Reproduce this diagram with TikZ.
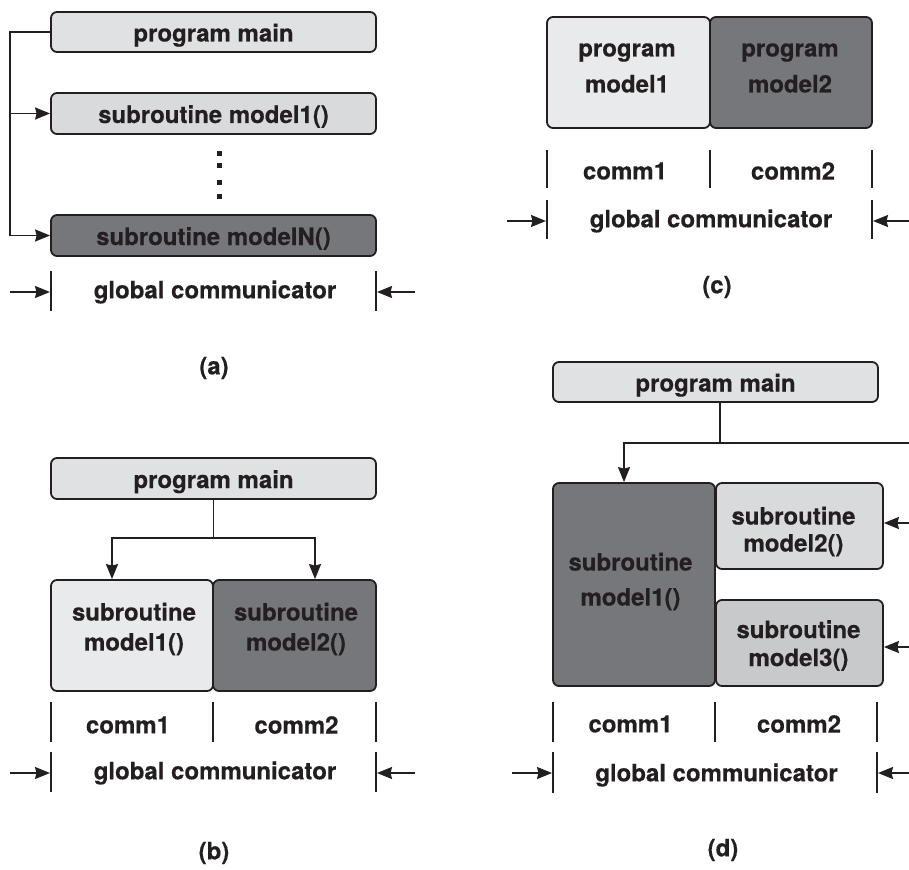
\documentclass[tikz,border=0pt]{standalone}
\usepackage{fontspec}
\setmainfont{TeX Gyre Heros}[BoldFeatures={FakeBold=0.35}]
\usetikzlibrary{arrows.meta}
\definecolor{txt}{HTML}{231F20}
\definecolor{gMain}{HTML}{E0E1E2}
\definecolor{gLight}{HTML}{E9EAEB}
\definecolor{gMid}{HTML}{D9DADC}
\definecolor{gMidB}{HTML}{C8C9CB}
\definecolor{gDark}{HTML}{76777B}
\begin{document}
\begin{tikzpicture}[x=1pt,y=-1pt,
  bx/.style={draw=txt, line width=1.8pt, rounded corners=6pt, inner sep=0pt,
    text=txt, font=\bfseries\fontsize{24}{30}\selectfont, text height=24pt, text depth=5pt},
  lbl/.style={text=txt, inner sep=0pt, align=center, font=\bfseries\fontsize{24}{30}\selectfont},
  conn/.style={draw=txt, line width=1.8pt},
  arr/.style={conn, -{Stealth[length=15pt,width=12pt,inset=1.5pt]}},
  bar/.style={draw=txt, line width=1.8pt},
  dotsq/.style={fill=txt}
]
\useasboundingbox (0,0) rectangle (909,869);

%% ---------------- (a) ----------------
\node[bx, fill=gMain, minimum width=325pt, minimum height=40pt] (amain) at (213.5,32) {program main};
\node[bx, fill=gMid, minimum width=325pt, minimum height=41pt] (am1) at (213.5,113.5) {subroutine model1()};
\node[bx, fill=gDark, minimum width=325pt, minimum height=41pt] (amN) at (213.5,235.5) {subroutine modelN()};
\foreach \yy in {153.5,165.5,182.5,196.5}
  \fill[dotsq] (216.8,\yy-2.7) rectangle (222.2,\yy+2.7);
\coordinate (aT) at (10,32);
\coordinate (aJ) at (10,113.5);
\draw[arr] (amain.west) -- (aT) |- (amN.west);
\draw[arr] (aJ) -- (am1.west);
\draw[bar] (51,271) -- (51,311);
\draw[bar] (376,271) -- (376,311);
\node[lbl] (aglob) at (215,292) {global communicator};
\coordinate (aGL) at (10,292);
\coordinate (aGLe) at (50,292);
\coordinate (aGR) at (415,292);
\coordinate (aGRe) at (377,292);
\draw[arr] (aGL) -- (aGLe);
\draw[arr] (aGR) -- (aGRe);
\node[lbl] (acap) at (214,368) {(a)};

%% ---------------- (c) ----------------
\node[bx, fill=gLight, minimum width=163pt, minimum height=111pt] (c1) at (628.5,72.5) {};
\node[bx, fill=gDark, minimum width=162pt, minimum height=111pt] (c2) at (791,72.5) {};
\node[lbl, font=\bfseries\fontsize{24}{36}\selectfont] (c1t) at (627,68) {program\\model1};
\node[lbl, font=\bfseries\fontsize{24}{36}\selectfont] (c2t) at (790,68) {program\\model2};
\draw[bar] (547,150) -- (547,188);
\draw[bar] (710,150) -- (710,188);
\draw[bar] (872,150) -- (872,188);
\node[lbl] (cc1) at (625,171) {comm1};
\node[lbl] (cc2) at (793,171) {comm2};
\draw[bar] (547,200) -- (547,239);
\draw[bar] (872,200) -- (872,239);
\node[lbl] (cglob) at (711,221) {global communicator};
\coordinate (cGL) at (507,221);
\coordinate (cGLe) at (546,221);
\coordinate (cGR) at (909,221);
\coordinate (cGRe) at (873,221);
\draw[arr] (cGL) -- (cGLe);
\draw[arr] (cGR) -- (cGRe);
\node[lbl] (ccap) at (717,287) {(c)};

%% ---------------- (b) ----------------
\node[bx, fill=gMain, minimum width=325pt, minimum height=41pt] (bmain) at (213.5,478.5) {program main};
\node[bx, fill=gLight, minimum width=162pt, minimum height=111pt] (b1) at (132,635.5) {};
\node[bx, fill=gDark, minimum width=163pt, minimum height=111pt] (b2) at (294.5,635.5) {};
\node[lbl] (b1t) at (134,629) {subroutine\\model1()};
\node[lbl] (b2t) at (296,629) {subroutine\\model2()};
\coordinate (bJ) at (213.5,538);
\coordinate (bL) at (112,538);
\coordinate (bR) at (315,538);
\draw[conn] (bmain.south) -- (bJ);
\draw[arr] (bJ) -- (bL) -- (bL |- b1.north);
\draw[arr] (bJ) -- (bR) -- (bR |- b2.north);
\draw[bar] (51,702) -- (51,742);
\draw[bar] (213,702) -- (213,742);
\draw[bar] (376,702) -- (376,742);
\node[lbl] (bc1) at (128,725) {comm1};
\node[lbl] (bc2) at (296.5,725) {comm2};
\draw[bar] (51,752) -- (51,792);
\draw[bar] (376,752) -- (376,792);
\node[lbl] (bglob) at (215,773) {global communicator};
\coordinate (bGL) at (10,773);
\coordinate (bGLe) at (50,773);
\coordinate (bGR) at (415,773);
\coordinate (bGRe) at (377,773);
\draw[arr] (bGL) -- (bGLe);
\draw[arr] (bGR) -- (bGRe);
\node[lbl] (bcap) at (214,853) {(b)};

%% ---------------- (d) ----------------
\node[bx, fill=gMain, minimum width=325pt, minimum height=40pt] (dmain) at (715.5,382) {program main};
\node[bx, fill=gDark, minimum width=162pt, minimum height=203pt] (d1) at (634,584.5) {};
\node[bx, fill=gMid, minimum width=167pt, minimum height=86pt] (d2) at (799.5,526) {};
\node[bx, fill=gMidB, minimum width=167pt, minimum height=86pt] (d3) at (799.5,643) {};
\node[lbl, font=\bfseries\fontsize{24}{35}\selectfont] (d1t) at (630.5,581.5) {subroutine\\model1()};
\node[lbl, font=\bfseries\fontsize{24}{27}\selectfont] (d2t) at (793.5,531.5) {subroutine\\model2()};
\node[lbl, font=\bfseries\fontsize{24}{28}\selectfont] (d3t) at (798.5,645.5) {subroutine\\model3()};
\coordinate (dJ) at (720,443);
\coordinate (dL) at (624,443);
\coordinate (dR) at (909,443);
\draw[conn] (dJ |- dmain.south) -- (dJ);
\draw[arr] (dR) -- (dL) -- (dL |- d1.north);
\coordinate (dR2) at (909,523);
\coordinate (dR3) at (909,647);
\draw[arr] (dR2) -- (dR2 -| d2.east);
\draw[arr] (dR3) -- (dR3 -| d3.east);
\draw[bar] (553,702) -- (553,742);
\draw[bar] (715,702) -- (715,742);
\draw[bar] (877,702) -- (877,742);
\node[lbl] (dc1) at (630.5,724) {comm1};
\node[lbl] (dc2) at (799,724) {comm2};
\draw[bar] (553,752) -- (553,793);
\draw[bar] (877,752) -- (877,793);
\node[lbl] (dglob) at (716.5,775) {global communicator};
\coordinate (dGL) at (512,773);
\coordinate (dGLe) at (552,773);
\coordinate (dGR) at (909,773);
\coordinate (dGRe) at (878,773);
\draw[arr] (dGL) -- (dGLe);
\draw[arr] (dGR) -- (dGRe);
\node[lbl] (dcap) at (723,850) {(d)};
\end{tikzpicture}
\end{document}
